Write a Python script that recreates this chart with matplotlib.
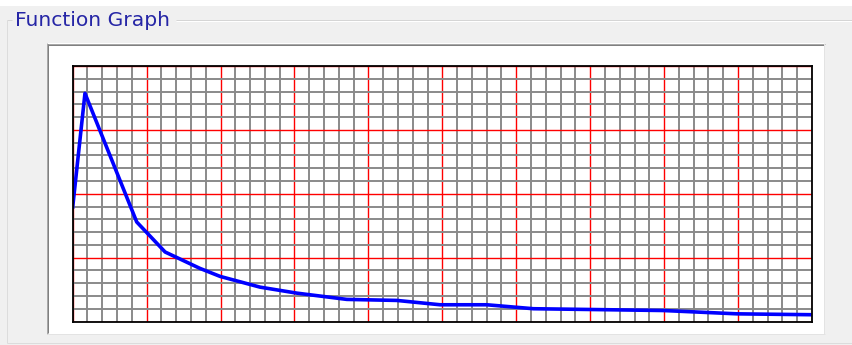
import numpy as np
import matplotlib
matplotlib.use("Agg")
import matplotlib.pyplot as plt
from matplotlib.lines import Line2D
from matplotlib.patches import Rectangle

# curve values, in grid cells (50 columns x 20 rows)
xs = [0, 0.83, 4.33, 6.25, 8.6, 9.97, 12.67, 15.16, 18.54, 21.92, 24.85, 28.0,
      31.16, 35.0, 39.94, 44.93, 50.0]
ys = [8.96, 17.86, 7.79, 5.44, 4.16, 3.53, 2.69, 2.22, 1.73, 1.65, 1.31, 1.31,
      1.0, 0.94, 0.86, 0.60, 0.53]

n_cols = 50
n_rows = 20
major_every = 5
title = "Function Graph"

W, H = 853, 345
fig = plt.figure(figsize=(W / 100, H / 100), dpi=100)
fig.patch.set_facecolor("#f0f0f0")


def fx(x):
    return x / W


def fy(y):
    return 1 - y / H


def hline(x0, x1, y, color, lw=1.0):
    fig.add_artist(Line2D([fx(x0), fx(x1)], [fy(y), fy(y)], color=color, zorder=-1,
                          lw=lw * 0.72, transform=fig.transFigure, solid_capstyle="butt"))


def vline(x, y0, y1, color, lw=1.0):
    fig.add_artist(Line2D([fx(x), fx(x)], [fy(y0), fy(y1)], color=color, zorder=-1,
                          lw=lw * 0.72, transform=fig.transFigure, solid_capstyle="butt"))


# white strip at top of window
fig.add_artist(Rectangle((0, fy(6)), 1, 6 / H, transform=fig.transFigure,
                         facecolor="white", edgecolor="none", zorder=-2))

# group box frame
hline(7.5, 12, 19.5, "#d5d5d5")
hline(176, 853, 19.5, "#d5d5d5")
hline(176, 853, 20.5, "white")
vline(7.5, 19.5, 342.5, "#dcdcdc")
hline(7.5, 853, 342.5, "#dcdcdc")

# sunken panel
fig.add_artist(Rectangle((fx(47), fy(334)), (825 - 47) / W, (334 - 43) / H,
                         transform=fig.transFigure, facecolor="white", edgecolor="none",
                         zorder=-2))
hline(47, 825, 43.5, "#a8a8a8")
vline(47.5, 43, 334, "#a8a8a8")
hline(48, 824, 44.5, "#808080")
vline(48.5, 44, 333, "#808080")
hline(47, 825, 333.5, "#e3e3e3")
vline(824.5, 43, 334, "#e3e3e3")

fig.text(fx(15), fy(26.5), title, color="#2626a6", fontsize=14.6,
         family="DejaVu Sans", va="baseline", ha="left")

ax = fig.add_axes([fx(72.7), fy(321.5), (812 - 72.7) / W, (321.5 - 66) / H])
ax.set_zorder(5)
ax.set_facecolor("white")
ax.set_xlim(0, n_cols)
ax.set_ylim(0, n_rows)

ax.set_xticks(np.arange(0, n_cols + 1, major_every))
ax.set_yticks(np.arange(0, n_rows + 1, major_every))
ax.set_xticks([i for i in range(n_cols + 1) if i % major_every], minor=True)
ax.set_yticks([i for i in range(n_rows + 1) if i % major_every], minor=True)
ax.grid(which="minor", color="#8a8a8a", lw=1.4)
ax.grid(which="major", color="#ff0000", lw=1.0)
ax.tick_params(which="both", length=0, labelbottom=False, labelleft=False)
ax.set_axisbelow(True)
for s in ax.spines.values():
    s.set_color("black")
    s.set_linewidth(1.3)

ax.plot(xs, ys, color="#0000ff", lw=2.6, solid_joinstyle="round")

fig.savefig("out.png", dpi=100, facecolor=fig.get_facecolor())
